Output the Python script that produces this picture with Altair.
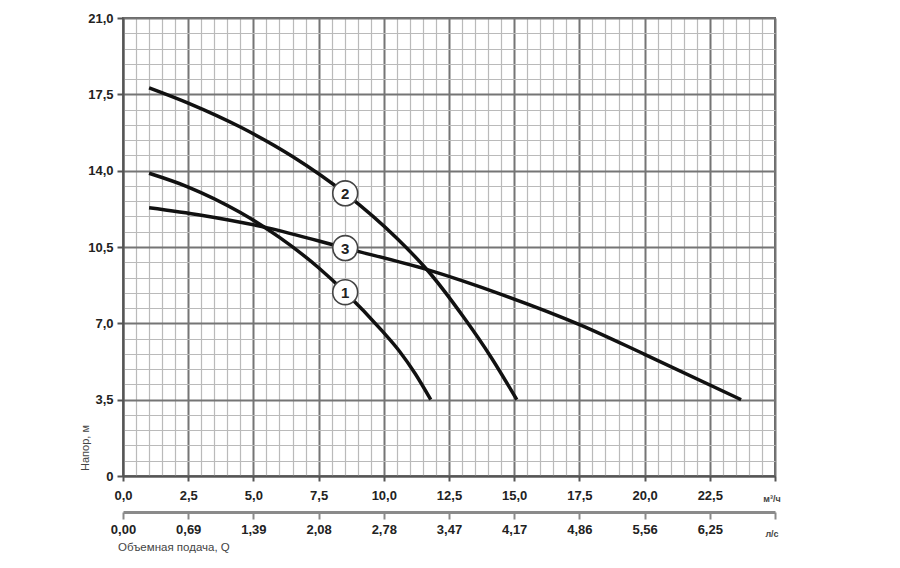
import altair as alt
import pandas as pd

# ---- data (Q in m3/h, H in m) ----
q1 = [1.0, 2.5, 4.5, 6.0, 7.5, 8.5, 9.9, 10.6, 11.2, 11.8]
h1 = [13.88, 13.25, 12.08, 10.94, 9.55, 8.45, 6.7, 5.72, 4.7, 3.5]

q2 = [1.0, 2.5, 4.5, 6.5, 8.52, 10.5, 11.7, 13.05, 14.1, 15.1]
h2 = [17.8, 17.1, 16.0, 14.65, 12.96, 10.9, 9.4, 7.3, 5.47, 3.5]

q3 = [1.0, 3.0, 5.5, 8.52, 11.7, 14.5, 17.55, 20.0, 23.7]
h3 = [12.3, 11.96, 11.39, 10.45, 9.45, 8.33, 6.92, 5.58, 3.5]

label_names = ["1", "2", "3"]
label_q = [8.52, 8.52, 8.52]
label_h = [8.43, 12.96, 10.45]

# axis ticks / labels
x_major = [0, 2.5, 5, 7.5, 10, 12.5, 15, 17.5, 20, 22.5, 25]
x_grid = [round(i * 0.5, 1) for i in range(51)]
y_grid = [round(i * 0.7, 1) for i in range(31)]
ls_labels = ["0,00", "0,69", "1,39", "2,08", "2,78", "3,47", "4,17", "4,86", "5,56", "6,25"]

curves = pd.DataFrame(
    {
        "q": q1 + q2 + q3,
        "h": h1 + h2 + h3,
        "curve": ["1"] * len(q1) + ["2"] * len(q2) + ["3"] * len(q3),
    }
)
labels = pd.DataFrame({"q": label_q, "h": label_h, "name": label_names})

FONT = "Liberation Sans"
MAJOR = "#757575"
MINOR = "#bababa"

xscale = alt.Scale(domain=[0, 25], nice=False, zero=False)
yscale = alt.Scale(domain=[0, 21], nice=False, zero=False)

x_test = "datum.value % 2.5 === 0"
y_test = "datum.value % 3.5 === 0"

x_axis_main = alt.Axis(
    orient="bottom",
    values=x_grid,
    grid=True,
    gridColor={"condition": {"test": x_test, "value": MAJOR}, "value": MINOR},
    gridWidth={"condition": {"test": x_test, "value": 2}, "value": 1.2},
    tickOpacity={"condition": {"test": x_test, "value": 1}, "value": 0},
    tickColor="#555",
    tickWidth=2,
    tickSize=5,
    domainColor="#555",
    domainWidth=2,
    labelExpr="(datum.value % 2.5 === 0 && datum.value < 25) ? replace(format(datum.value, '.1f'), '.', ',') : ''",
    labelFont=FONT,
    labelFontSize=13,
    labelFontWeight="bold",
    labelColor="#222",
    labelPadding=8,
    labelFlush=False,
    labelOverlap=False,
    title=None,
)

y_axis_main = alt.Axis(
    values=y_grid,
    grid=True,
    gridColor={"condition": {"test": y_test, "value": MAJOR}, "value": MINOR},
    gridWidth={"condition": {"test": y_test, "value": 2}, "value": 1.2},
    tickOpacity={"condition": {"test": y_test, "value": 1}, "value": 0},
    tickColor="#555",
    tickWidth=2,
    tickSize=6,
    domainColor="#555",
    domainWidth=2,
    labelExpr="datum.value % 3.5 === 0 ? (datum.value === 0 ? '0' : replace(format(datum.value, '.1f'), '.', ',')) : ''",
    labelFont=FONT,
    labelFontSize=13,
    labelFontWeight="bold",
    labelColor="#222",
    labelPadding=4,
    labelOverlap=False,
    title=None,
)

# second (l/s) axis label expression built from the list
expr = "''"
for i in reversed(range(len(ls_labels))):
    expr = f"(abs(datum.value - {x_major[i]}) < 0.01 ? '{ls_labels[i]}' : {expr})"

x_axis_ls = alt.Axis(
    orient="bottom",
    offset=36,
    values=x_major,
    grid=False,
    tickColor="#8a8a8a",
    tickWidth=2,
    tickSize=7,
    domainColor="#8a8a8a",
    domainWidth=3,
    labelExpr=expr,
    labelFont=FONT,
    labelFontSize=13,
    labelFontWeight="bold",
    labelColor="#222",
    labelPadding=4,
    labelFlush=False,
    labelOverlap=False,
    title=None,
)

lines = (
    alt.Chart(curves)
    .mark_line(interpolate="monotone", color="#111", strokeWidth=3.5)
    .encode(
        x=alt.X("q:Q", scale=xscale, axis=x_axis_main),
        y=alt.Y("h:Q", scale=yscale, axis=y_axis_main),
        detail="curve:N",
        order="q:Q",
    )
)

circles = (
    alt.Chart(labels)
    .mark_circle(fill="white", stroke="#444", strokeWidth=1.6, size=620, opacity=1)
    .encode(
        x=alt.X("q:Q", scale=xscale, axis=x_axis_ls),
        y=alt.Y("h:Q", scale=yscale, axis=None),
    )
)

numbers = (
    alt.Chart(labels)
    .mark_text(font=FONT, fontSize=15, fontWeight="bold", color="#222", align="center", baseline="middle", dy=1)
    .encode(
        x=alt.X("q:Q", scale=xscale, axis=None),
        y=alt.Y("h:Q", scale=yscale, axis=None),
        text="name:N",
    )
)

ann = pd.DataFrame({"t": ["x"]})
y_title = alt.Chart(ann).mark_text(
    text="Напор, м", font=FONT, fontSize=11, color="#444", angle=270, align="center", baseline="middle"
).encode(x=alt.value(-37), y=alt.value(430))
x_title = alt.Chart(ann).mark_text(
    text="Объемная подача, Q", font=FONT, fontSize=11.5, color="#444", align="left", baseline="middle"
).encode(x=alt.value(-5), y=alt.value(530))
unit1 = alt.Chart(ann).mark_text(
    text="м³/ч", font=FONT, fontSize=9, fontWeight="bold", color="#444", align="center", baseline="middle"
).encode(x=alt.value(649), y=alt.value(481))
unit2 = alt.Chart(ann).mark_text(
    text="л/с", font=FONT, fontSize=9, fontWeight="bold", color="#444", align="center", baseline="middle"
).encode(x=alt.value(649), y=alt.value(516))

chart = (
    alt.layer(lines, circles, numbers, y_title, x_title, unit1, unit2)
    .resolve_axis(x="independent", y="independent")
    .properties(
        width=652,
        height=458,
        autosize=alt.AutoSizeParams(type="none"),
        padding={"left": 123, "top": 18, "right": 125, "bottom": 92},
        background="white",
    )
    .configure_view(stroke="#666", strokeWidth=2)
)

chart.save("out.html", embed_options={"renderer": "svg", "actions": False})
